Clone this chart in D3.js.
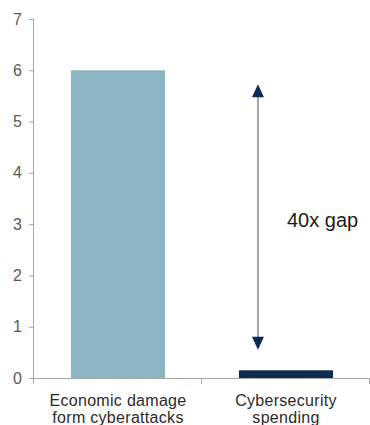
<!DOCTYPE html>
<html>
<head>
<meta charset="utf-8">
<script src="https://cdn.jsdelivr.net/npm/d3@7"></script>
<style>
  html, body { margin: 0; padding: 0; background: #fff; }
  svg { display: block; font-family: "Liberation Sans", Arial, sans-serif; }
</style>
</head>
<body>
<svg id="chart" width="370" height="425"></svg>
<script>
// Categories (two lines each) and values, in trillions of USD
const categories = ["Economic damage|form cyberattacks", "Cybersecurity|spending"];
const values = [6, 0.15];
const barColors = ["#8cb5c4", "#0e2a52"];
const yTicks = [0, 1, 2, 3, 4, 5, 6, 7];
const gapLabel = "40x gap";
// Arrow spans between these two values on the y scale
const arrowSpan = [5.73, 0.55];

const svg = d3.select("#chart");
const plotLeft = 34, plotRight = 370, plotTop = 19, plotBottom = 378;

const y = d3.scaleLinear().domain([0, 7]).range([plotBottom, plotTop]);
const x = d3.scaleBand().domain(categories).range([plotLeft, plotRight])
  .paddingInner(0.44).paddingOuter(0.22);

const axisColor = "#a6a6a6";
const textColor = "#595959";

// Y axis
const yAxis = svg.append("g").attr("transform", `translate(${plotLeft},0)`)
  .call(d3.axisLeft(y).tickValues(yTicks).tickSize(5).tickPadding(7).tickFormat(d3.format("d")));
yAxis.select(".domain").attr("stroke", axisColor).attr("d", `M-0.5,${plotBottom}V${plotTop}`);
yAxis.selectAll(".tick line").attr("stroke", axisColor);
yAxis.selectAll(".tick text").attr("fill", textColor).attr("font-size", 16)
  .attr("font-family", "Liberation Sans, Arial, sans-serif");

// Bars
svg.append("g").selectAll("rect").data(values).join("rect")
  .attr("x", (d, i) => x(categories[i]))
  .attr("width", x.bandwidth())
  .attr("y", d => y(d))
  .attr("height", d => y(0) - y(d))
  .attr("fill", (d, i) => barColors[i]);

// X axis with ticks at category boundaries
const step = x.step();
const boundaries = [plotLeft, plotLeft + step, plotLeft + 2 * step].map(v => Math.min(v, plotRight));
svg.append("line").attr("x1", plotLeft).attr("x2", plotRight)
  .attr("y1", plotBottom + 0.5).attr("y2", plotBottom + 0.5)
  .attr("stroke", axisColor);
svg.append("g").selectAll("line").data(boundaries).join("line")
  .attr("x1", d => d - 0.5).attr("x2", d => d - 0.5)
  .attr("y1", plotBottom).attr("y2", plotBottom + 6)
  .attr("stroke", axisColor);

// Category labels
const labels = svg.append("g").selectAll("text").data(categories).join("text")
  .attr("text-anchor", "middle")
  .attr("font-size", 16)
  .attr("fill", "#2b2b2b")
  .attr("letter-spacing", 0.3)
  .attr("transform", d => `translate(${x(d) + x.bandwidth() / 2},${plotBottom + 28})`);
labels.each(function(d) {
  const t = d3.select(this);
  d.split("|").forEach((line, i) => {
    t.append("tspan").attr("x", 0).attr("dy", i === 0 ? 0 : 17).text(line);
  });
});

// Double-headed arrow showing the gap
const ax = x(categories[1]) + 19;
const yTop = y(arrowSpan[0]), yBot = y(arrowSpan[1]);
const headH = 13, headW = 6;
svg.append("line").attr("x1", ax).attr("x2", ax).attr("y1", yTop + 6).attr("y2", yBot - 6)
  .attr("stroke", "#8592a8").attr("stroke-width", 1.6);
svg.append("path")
  .attr("d", `M${ax},${yTop}L${ax + headW},${yTop + headH}L${ax - headW},${yTop + headH}Z`)
  .attr("fill", "#0e2a52");
svg.append("path")
  .attr("d", `M${ax},${yBot}L${ax + headW},${yBot - headH}L${ax - headW},${yBot - headH}Z`)
  .attr("fill", "#0e2a52");

svg.append("text").attr("x", ax + 29).attr("y", 227)
  .attr("font-size", 20).attr("fill", "#1a1a1a").text(gapLabel);
</script>
</body>
</html>
